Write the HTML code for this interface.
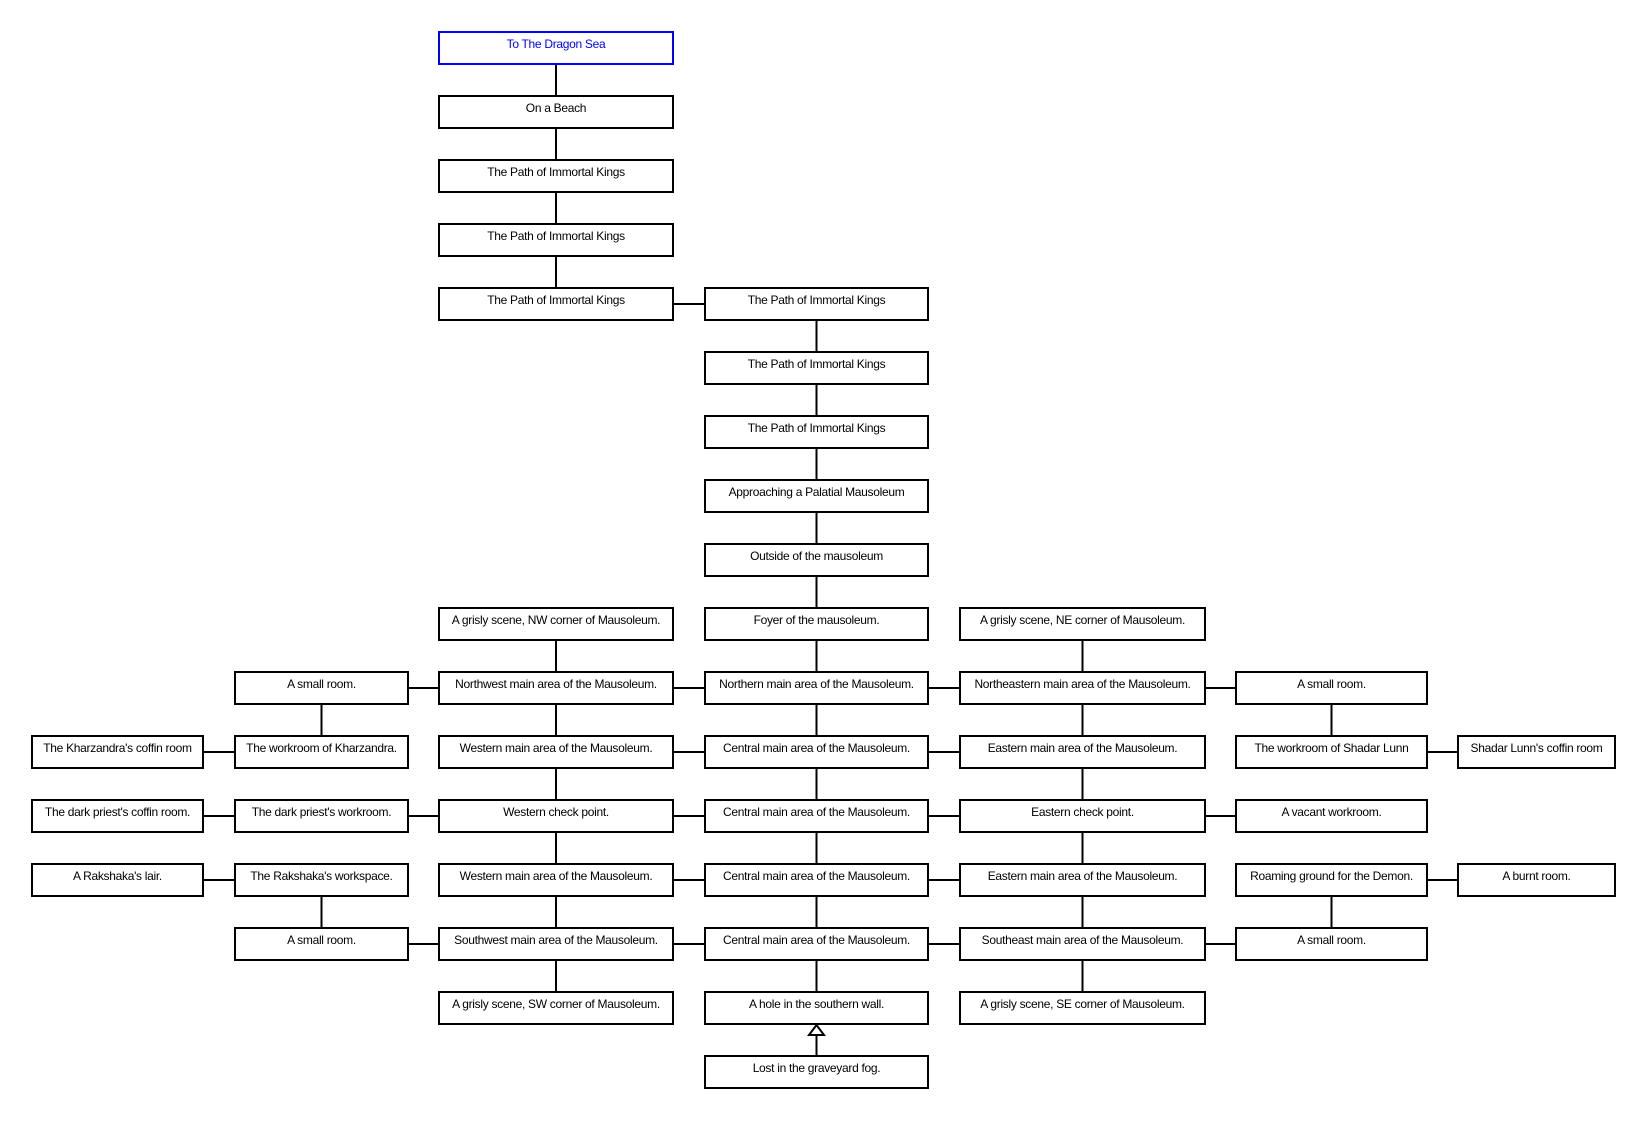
<!DOCTYPE html>
<html><head><meta charset="utf-8"><style>
html,body{margin:0;padding:0;background:#fff;}
svg text{font-family:"Liberation Sans",sans-serif;font-size:12px;text-anchor:middle;letter-spacing:-0.3px;}
</style></head><body>
<svg width="1644" height="1120" xmlns="http://www.w3.org/2000/svg">
<g stroke="#000" stroke-width="2" fill="none">
<line x1="556" y1="64" x2="556" y2="288"/>
<line x1="673" y1="304" x2="705" y2="304"/>
<line x1="816.5" y1="304" x2="816.5" y2="1000"/>
<line x1="556" y1="608" x2="556" y2="1000"/>
<line x1="1082.5" y1="608" x2="1082.5" y2="1000"/>
<line x1="321.5" y1="688" x2="321.5" y2="752"/>
<line x1="1331.5" y1="688" x2="1331.5" y2="752"/>
<line x1="321.5" y1="880" x2="321.5" y2="944"/>
<line x1="1331.5" y1="880" x2="1331.5" y2="944"/>
<line x1="408" y1="688" x2="1236" y2="688"/>
<line x1="203" y1="752" x2="235" y2="752"/>
<line x1="673" y1="752" x2="960" y2="752"/>
<line x1="1427" y1="752" x2="1458" y2="752"/>
<line x1="203" y1="816" x2="1236" y2="816"/>
<line x1="203" y1="880" x2="235" y2="880"/>
<line x1="673" y1="880" x2="960" y2="880"/>
<line x1="1427" y1="880" x2="1458" y2="880"/>
<line x1="408" y1="944" x2="1236" y2="944"/>
<line x1="816.5" y1="1034" x2="816.5" y2="1056"/>
</g>
<g stroke="#000" stroke-width="2" fill="#fff">
<rect x="439" y="32" width="234" height="32" stroke="#0000ff"/>
<rect x="439" y="96" width="234" height="32"/>
<rect x="439" y="160" width="234" height="32"/>
<rect x="439" y="224" width="234" height="32"/>
<rect x="439" y="288" width="234" height="32"/>
<rect x="705" y="288" width="223" height="32"/>
<rect x="705" y="352" width="223" height="32"/>
<rect x="705" y="416" width="223" height="32"/>
<rect x="705" y="480" width="223" height="32"/>
<rect x="705" y="544" width="223" height="32"/>
<rect x="439" y="608" width="234" height="32"/>
<rect x="705" y="608" width="223" height="32"/>
<rect x="960" y="608" width="245" height="32"/>
<rect x="235" y="672" width="173" height="32"/>
<rect x="439" y="672" width="234" height="32"/>
<rect x="705" y="672" width="223" height="32"/>
<rect x="960" y="672" width="245" height="32"/>
<rect x="1236" y="672" width="191" height="32"/>
<rect x="32" y="736" width="171" height="32"/>
<rect x="235" y="736" width="173" height="32"/>
<rect x="439" y="736" width="234" height="32"/>
<rect x="705" y="736" width="223" height="32"/>
<rect x="960" y="736" width="245" height="32"/>
<rect x="1236" y="736" width="191" height="32"/>
<rect x="1458" y="736" width="157" height="32"/>
<rect x="32" y="800" width="171" height="32"/>
<rect x="235" y="800" width="173" height="32"/>
<rect x="439" y="800" width="234" height="32"/>
<rect x="705" y="800" width="223" height="32"/>
<rect x="960" y="800" width="245" height="32"/>
<rect x="1236" y="800" width="191" height="32"/>
<rect x="32" y="864" width="171" height="32"/>
<rect x="235" y="864" width="173" height="32"/>
<rect x="439" y="864" width="234" height="32"/>
<rect x="705" y="864" width="223" height="32"/>
<rect x="960" y="864" width="245" height="32"/>
<rect x="1236" y="864" width="191" height="32"/>
<rect x="1458" y="864" width="157" height="32"/>
<rect x="235" y="928" width="173" height="32"/>
<rect x="439" y="928" width="234" height="32"/>
<rect x="705" y="928" width="223" height="32"/>
<rect x="960" y="928" width="245" height="32"/>
<rect x="1236" y="928" width="191" height="32"/>
<rect x="439" y="992" width="234" height="32"/>
<rect x="705" y="992" width="223" height="32"/>
<rect x="960" y="992" width="245" height="32"/>
<rect x="705" y="1056" width="223" height="32"/>
<polygon points="816.5,1025 809,1035 824,1035"/>
</g>
<g fill="#000">
<text x="556" y="48" fill="#0000ff">To The Dragon Sea</text>
<text x="556" y="112">On a Beach</text>
<text x="556" y="176">The Path of Immortal Kings</text>
<text x="556" y="240">The Path of Immortal Kings</text>
<text x="556" y="304">The Path of Immortal Kings</text>
<text x="816.5" y="304">The Path of Immortal Kings</text>
<text x="816.5" y="368">The Path of Immortal Kings</text>
<text x="816.5" y="432">The Path of Immortal Kings</text>
<text x="816.5" y="496">Approaching a Palatial Mausoleum</text>
<text x="816.5" y="560">Outside of the mausoleum</text>
<text x="556" y="624">A grisly scene, NW corner of Mausoleum.</text>
<text x="816.5" y="624">Foyer of the mausoleum.</text>
<text x="1082.5" y="624">A grisly scene, NE corner of Mausoleum.</text>
<text x="321.5" y="688">A small room.</text>
<text x="556" y="688">Northwest main area of the Mausoleum.</text>
<text x="816.5" y="688">Northern main area of the Mausoleum.</text>
<text x="1082.5" y="688">Northeastern main area of the Mausoleum.</text>
<text x="1331.5" y="688">A small room.</text>
<text x="117.5" y="752">The Kharzandra's coffin room</text>
<text x="321.5" y="752">The workroom of Kharzandra.</text>
<text x="556" y="752">Western main area of the Mausoleum.</text>
<text x="816.5" y="752">Central main area of the Mausoleum.</text>
<text x="1082.5" y="752">Eastern main area of the Mausoleum.</text>
<text x="1331.5" y="752">The workroom of Shadar Lunn</text>
<text x="1536.5" y="752">Shadar Lunn's coffin room</text>
<text x="117.5" y="816">The dark priest's coffin room.</text>
<text x="321.5" y="816">The dark priest's workroom.</text>
<text x="556" y="816">Western check point.</text>
<text x="816.5" y="816">Central main area of the Mausoleum.</text>
<text x="1082.5" y="816">Eastern check point.</text>
<text x="1331.5" y="816">A vacant workroom.</text>
<text x="117.5" y="880">A Rakshaka's lair.</text>
<text x="321.5" y="880">The Rakshaka's workspace.</text>
<text x="556" y="880">Western main area of the Mausoleum.</text>
<text x="816.5" y="880">Central main area of the Mausoleum.</text>
<text x="1082.5" y="880">Eastern main area of the Mausoleum.</text>
<text x="1331.5" y="880">Roaming ground for the Demon.</text>
<text x="1536.5" y="880">A burnt room.</text>
<text x="321.5" y="944">A small room.</text>
<text x="556" y="944">Southwest main area of the Mausoleum.</text>
<text x="816.5" y="944">Central main area of the Mausoleum.</text>
<text x="1082.5" y="944">Southeast main area of the Mausoleum.</text>
<text x="1331.5" y="944">A small room.</text>
<text x="556" y="1008">A grisly scene, SW corner of Mausoleum.</text>
<text x="816.5" y="1008">A hole in the southern wall.</text>
<text x="1082.5" y="1008">A grisly scene, SE corner of Mausoleum.</text>
<text x="816.5" y="1072">Lost in the graveyard fog.</text>
</g>
</svg>
</body></html>
